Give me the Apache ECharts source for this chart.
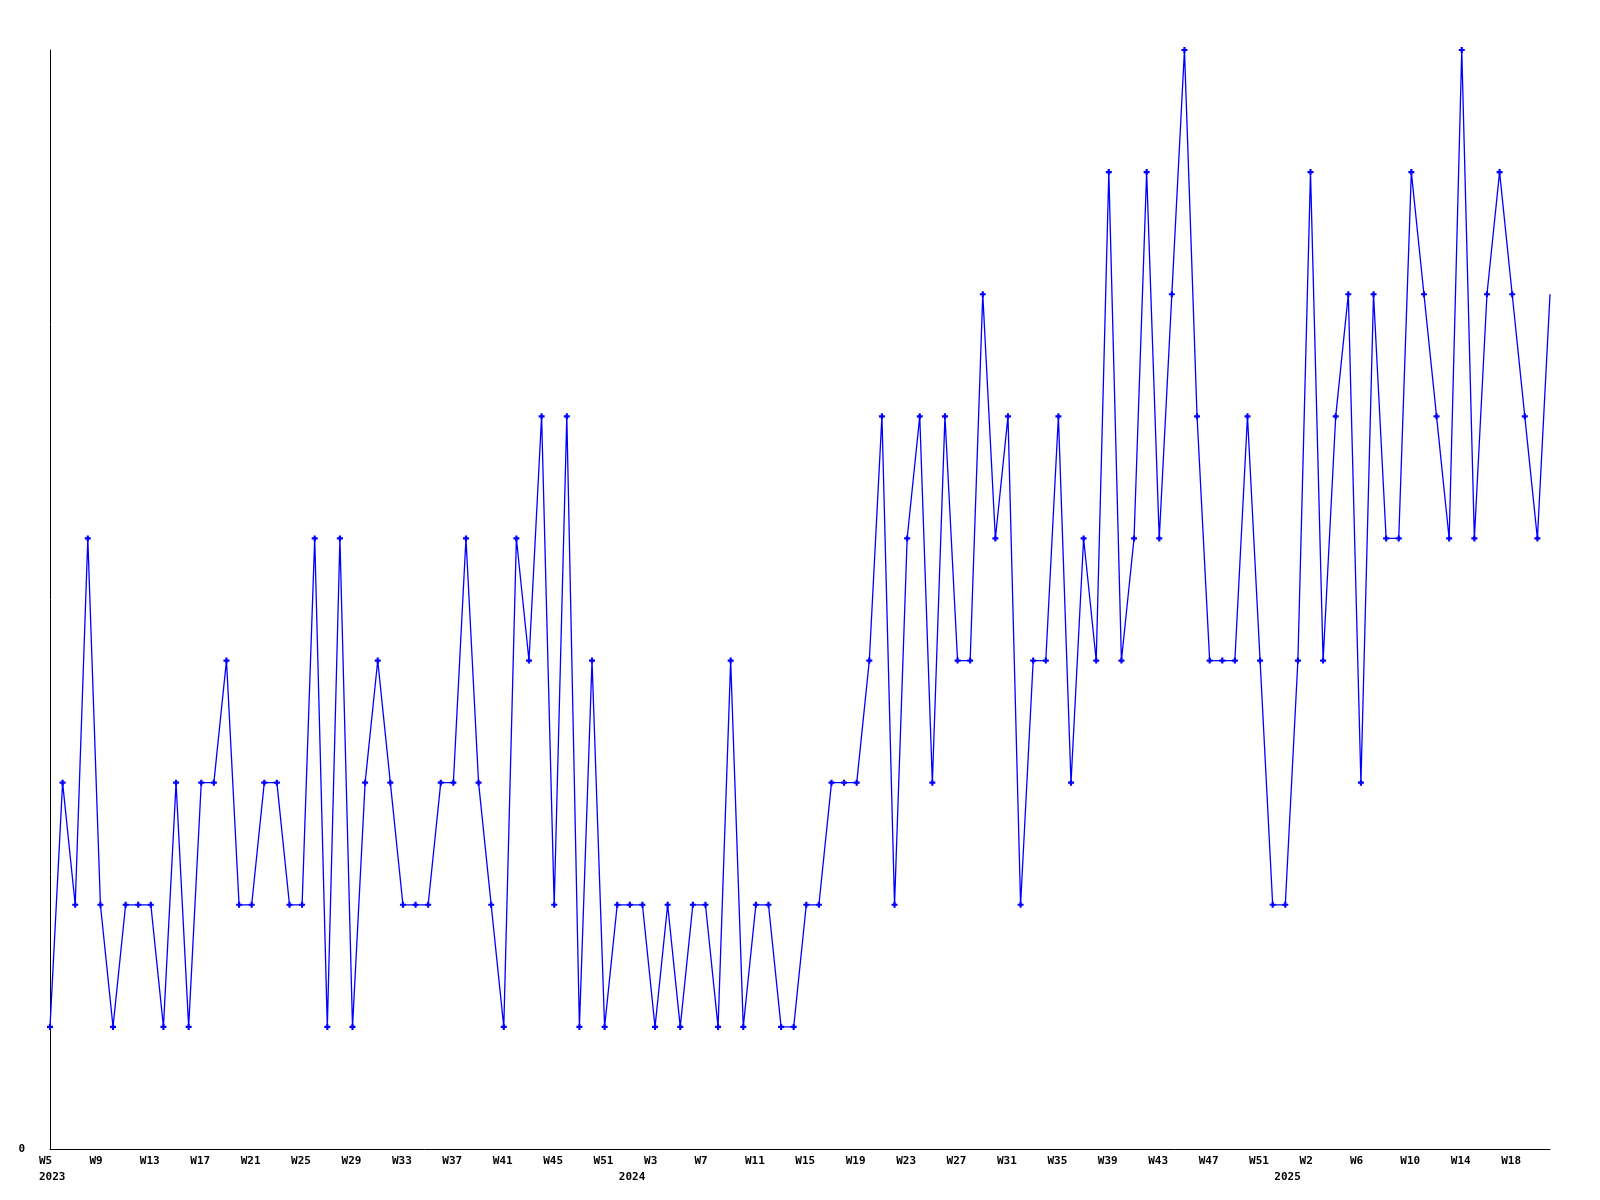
<!DOCTYPE html>
<html><head><meta charset="utf-8">
<script src="https://cdn.jsdelivr.net/npm/echarts@6/dist/echarts.min.js"></script>
<style>html,body{margin:0;padding:0;background:#fff}#c{width:1600px;height:1200px}</style>
</head><body><div id="c"></div>
<script>
// week label of each point
const weeks = [
  'W5','W6','W7','W8','W9','W10','W11','W12','W13','W14','W15','W16','W17','W18','W19','W20','W21','W22','W23','W24',
  'W25','W26','W27','W28','W29','W30','W31','W32','W33','W34','W35','W36','W37','W38','W39','W40','W41','W42','W43','W44',
  'W45','W46','W47','W49','W51','W52',
  'W1','W2','W3','W4','W5','W6','W7','W8','W9','W10','W11','W12','W13','W14','W15','W16','W17','W18','W19','W20',
  'W21','W22','W23','W24','W25','W26','W27','W28','W29','W30','W31','W32','W33','W34','W35','W36','W37','W38','W39','W40',
  'W41','W42','W43','W44','W45','W46','W47','W48','W49','W50','W51','W52',
  'W0','W1','W2','W3','W4','W5','W6','W7','W8','W9','W10','W11','W12','W13','W14','W15','W16','W17','W18','W19','W20','W21'
];
// year of each point
const years = [].concat(
  Array(46).fill('2023'),
  Array(52).fill('2024'),
  Array(22).fill('2025')
);
// series values
const values = [
  1,3,2,5,2,1,2,2,2,1,
  3,1,3,3,4,2,2,3,3,2,
  2,5,1,5,1,3,4,3,2,2,
  2,3,3,5,3,2,1,5,4,6,
  2,6,1,4,1,2,2,2,1,2,
  1,2,2,1,4,1,2,2,1,1,
  2,2,3,3,3,4,6,2,5,6,
  3,6,4,4,7,5,6,2,4,4,
  6,3,5,4,8,4,5,8,5,7,
  9,6,4,4,4,6,4,2,2,4,
  8,4,6,7,3,7,5,5,8,7,
  6,5,9,5,7,8,7,6,5,7
];
const yMin = 0, yMax = 9;

const cats = weeks.map((w, i) => years[i] + '-' + w);
const FONT = '"DejaVu Sans Mono", monospace';
const lbl = {fontFamily: FONT, fontSize: 11, fontWeight: 'bold', color: '#000', width: 22, align: 'left', lineHeight: 11};

const chart = echarts.init(document.getElementById('c'), null, {renderer: 'canvas'});
chart.setOption({
  backgroundColor: '#ffffff',
  animation: false,
  grid: {left: 50, right: 50, top: 50, bottom: 51, containLabel: false},
  xAxis: [{
    type: 'category', data: cats, boundaryGap: false, position: 'bottom',
    axisLine: {show: true, lineStyle: {color: '#000', width: 1}},
    axisTick: {show: false}, splitLine: {show: false},
    axisLabel: {interval: 3, margin: 7, align: 'center',
      formatter: (v, i) => '{a|' + weeks[i] + '}', rich: {a: lbl}}
  }, {
    type: 'category', data: cats, boundaryGap: false, position: 'bottom', offset: 15.5,
    axisLine: {show: false}, axisTick: {show: false}, splitLine: {show: false},
    axisLabel: {interval: 0, margin: 7, align: 'center',
      formatter: (v, i) => (i === 0 || years[i] !== years[i - 1]) ? '{a|' + years[i] + '}' : '',
      rich: {a: lbl}}
  }],
  yAxis: {
    type: 'value', min: yMin, max: yMax, interval: yMax - yMin,
    axisLine: {show: true, lineStyle: {color: '#000', width: 1}},
    axisTick: {show: false}, splitLine: {show: false},
    axisLabel: {margin: 25, fontFamily: FONT, fontSize: 11, fontWeight: 'bold', color: '#000',
      formatter: v => v === yMin ? String(v) : ''}
  },
  series: [{
    type: 'line', xAxisIndex: 0,
    data: values.map((v, i) => i === values.length - 1 ? {value: v, symbol: 'none'} : v),
    symbol: 'path://M1.6,0L3.4,0L3.4,1.6L5,1.6L5,3.4L3.4,3.4L3.4,5L1.6,5L1.6,3.4L0,3.4L0,1.6L1.6,1.6Z',
    symbolSize: 6, showAllSymbol: true, clip: false,
    lineStyle: {color: '#0000ff', width: 1.3},
    itemStyle: {color: '#0000ff'}
  }]
});
</script>
</body></html>
